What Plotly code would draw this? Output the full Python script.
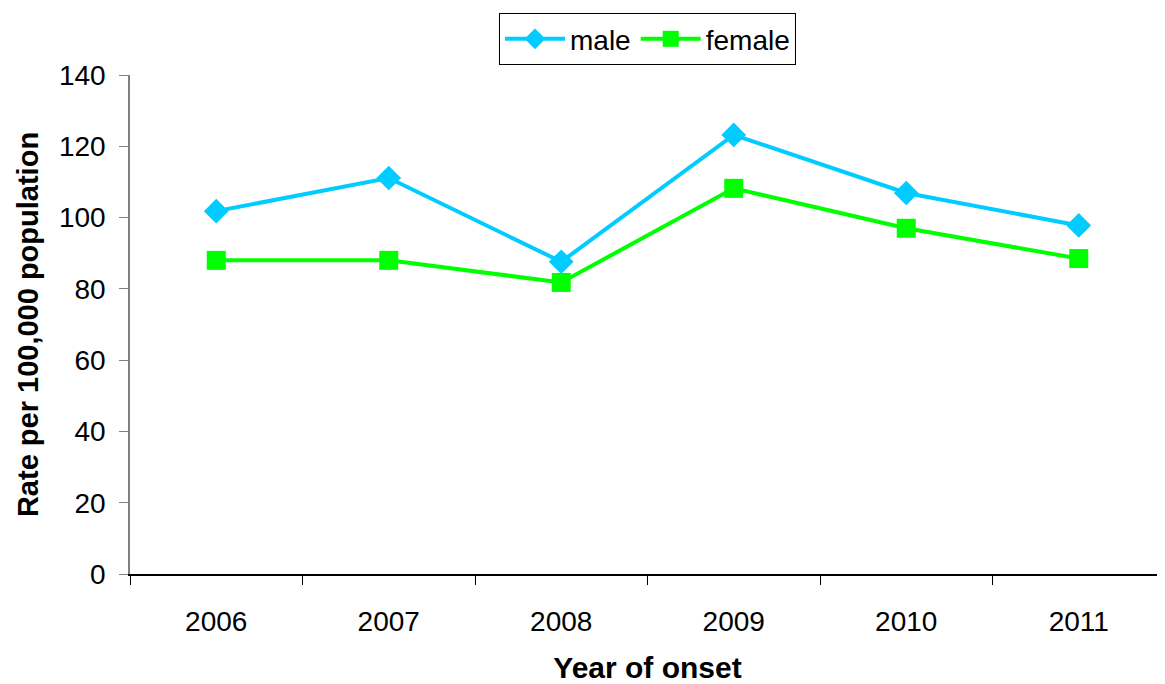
import plotly.graph_objects as go

years = ["2006", "2007", "2008", "2009", "2010", "2011"]
male = [101.8, 111.1, 87.6, 123.2, 106.9, 97.8]
female = [88.0, 88.0, 81.8, 108.2, 97.0, 88.5]

FONT = "Liberation Sans, Arial, sans-serif"

fig = go.Figure()
fig.add_trace(go.Scatter(
    x=years, y=male, name="male", mode="lines+markers",
    line=dict(color="#00CCFF", width=4),
    marker=dict(symbol="diamond", size=19, color="#00CCFF"),
))
fig.add_trace(go.Scatter(
    x=years, y=female, name="female", mode="lines+markers",
    line=dict(color="#00FF00", width=4),
    marker=dict(symbol="square", size=19, color="#00FF00"),
))

# page body has an 8px default margin, so the figure is sized to fit the window
fig.update_layout(
    width=1157, height=676,
    margin=dict(l=122, r=0, t=67, b=110),
    paper_bgcolor="white", plot_bgcolor="white",
    font=dict(family=FONT, size=27, color="black"),
    showlegend=True,
    legend=dict(
        orientation="h", x=0.5, xanchor="center", y=1.124, yanchor="top",
        bordercolor="black", borderwidth=1, bgcolor="white",
        font=dict(size=28), itemwidth=60,
    ),
    xaxis=dict(
        type="category", range=[-0.5, 5.5],
        showline=True, linecolor="black", linewidth=1.5,
        ticks="outside", ticklen=9, tickcolor="black", tickwidth=1,
        tickson="boundaries", showgrid=False, zeroline=False,
        ticklabelstandoff=22, tickfont=dict(size=28),
        title=dict(text="<b>Year of onset</b>", font=dict(size=30), standoff=22),
    ),
    yaxis=dict(
        range=[0, 140], dtick=20,
        showline=True, linecolor="#808080", linewidth=1.5,
        ticks="outside", ticklen=9, tickcolor="#808080", tickwidth=1,
        showgrid=False, zeroline=False,
        ticklabelstandoff=8, tickfont=dict(size=28),
        title=dict(text="<b>Rate per 100,000 population</b>", font=dict(size=29), standoff=12),
    ),
)

fig.write_html("out.html")
